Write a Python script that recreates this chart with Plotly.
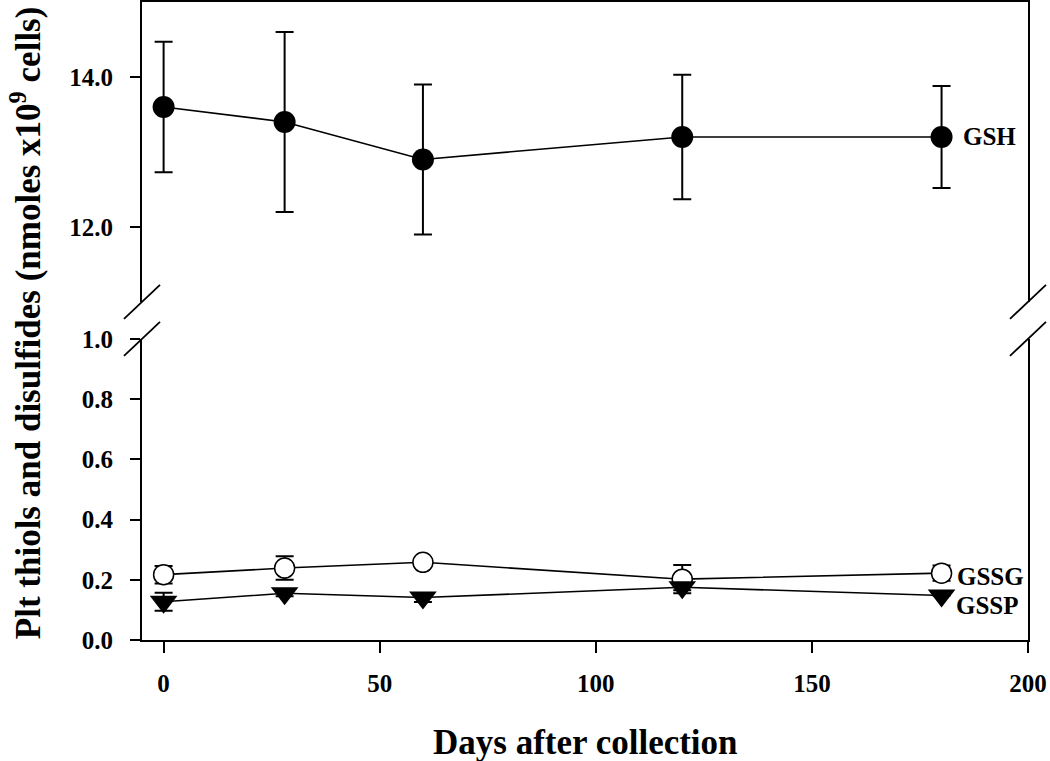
import plotly.graph_objects as go

days = [0, 28, 60, 120, 180]
gsh = [13.6, 13.4, 12.9, 13.2, 13.2]
gsh_err = [0.87, 1.2, 1.0, 0.83, 0.68]
gssg = [0.217, 0.239, 0.258, 0.202, 0.222]
gssg_err = [0.029, 0.039, 0.0, 0.047, 0.025]
gssp = [0.127, 0.155, 0.141, 0.175, 0.148]
gssp_err = [0.03, 0.01, 0.015, 0.01, 0.0]

x_ticks = [0, 50, 100, 150, 200]
low_ticks = [0.0, 0.2, 0.4, 0.6, 0.8, 1.0]
high_ticks = [12.0, 14.0]

FONT = "Liberation Serif, Times New Roman, serif"
BLACK = "black"

fig = go.Figure()

fig.add_trace(go.Scatter(
    x=days, y=gsh, mode="lines+markers", xaxis="x2", yaxis="y2",
    line=dict(color=BLACK, width=1.6),
    marker=dict(symbol="circle", size=22, color=BLACK),
    error_y=dict(type="data", array=gsh_err, color=BLACK, thickness=2, width=9),
    showlegend=False))

fig.add_trace(go.Scatter(
    x=days, y=gssg, mode="lines+markers",
    line=dict(color=BLACK, width=1.6),
    marker=dict(symbol="circle", size=20, color="white", line=dict(color=BLACK, width=1.5)),
    error_y=dict(type="data", array=gssg_err, color=BLACK, thickness=2, width=9),
    showlegend=False))

fig.add_trace(go.Scatter(
    x=days, y=gssp, mode="lines+markers",
    line=dict(color=BLACK, width=1.6),
    marker=dict(symbol="triangle-down", size=24, color=BLACK),
    error_y=dict(type="data", array=gssp_err, color=BLACK, thickness=2, width=9),
    showlegend=False))

tickfont = dict(family=FONT, size=25, color=BLACK, weight="bold")

fig.update_layout(
    width=1050, height=761,
    margin=dict(l=142, r=22, t=2, b=121, autoexpand=False),
    paper_bgcolor="white", plot_bgcolor="white",
    font=dict(family=FONT, color=BLACK),
    xaxis=dict(range=[-5, 200], tickvals=x_ticks, ticks="outside", ticklen=11, tickwidth=2,
               tickcolor=BLACK, showline=True, linecolor=BLACK, linewidth=2, showgrid=False,
               zeroline=False, tickfont=tickfont, anchor="y", ticklabelstandoff=9,
               automargin=False),
    xaxis2=dict(matches="x", anchor="y2", side="top", showline=True, linecolor=BLACK,
                linewidth=2, showticklabels=False, ticks="", showgrid=False, zeroline=False,
                automargin=False),
    yaxis=dict(domain=[0, 0.472], range=[0, 1.0], tickvals=low_ticks, tickformat=".1f",
               ticks="outside", ticklen=10, tickwidth=2, tickcolor=BLACK, showline=True,
               mirror=True, linecolor=BLACK, linewidth=2, showgrid=False, zeroline=False,
               tickfont=tickfont, anchor="x", ticklabelstandoff=12, automargin=False),
    yaxis2=dict(domain=[0.53, 1.0], range=[11, 15], tickvals=high_ticks, tickformat=".1f",
                ticks="outside", ticklen=10, tickwidth=2, tickcolor=BLACK, showline=True,
                mirror=True, linecolor=BLACK, linewidth=2, showgrid=False, zeroline=False,
                tickfont=tickfont, anchor="x2", ticklabelstandoff=12, automargin=False),
)

# axis break slashes
dx, dy = 0.0203, 0.0266
for xp in (0.0, 1.0):
    for yp in (0.53, 0.472):
        fig.add_shape(type="line", xref="paper", yref="paper",
                      x0=xp - dx, y0=yp - dy, x1=xp + dx, y1=yp + dy,
                      line=dict(color=BLACK, width=1.8))

lab = dict(family=FONT, size=25, color=BLACK)
fig.add_annotation(x=days[-1] + 4.5, y=gsh[-1], xref="x2", yref="y2", text="<b>GSH</b>",
                   showarrow=False, xanchor="left", yanchor="middle", font=lab)
fig.add_annotation(x=days[-1] + 3.2, y=0.212, xref="x", yref="y", text="<b>GSSG</b>",
                   showarrow=False, xanchor="left", yanchor="middle", font=lab)
fig.add_annotation(x=days[-1] + 2.8, y=0.116, xref="x", yref="y", text="<b>GSSP</b>",
                   showarrow=False, xanchor="left", yanchor="middle", font=lab)

fig.add_annotation(x=-0.131, y=0.498, xref="paper", yref="paper", textangle=-90,
                   text="<b>Plt thiols and disulfides (nmoles x10<sup>9</sup> cells)</b>",
                   showarrow=False, xanchor="center", yanchor="middle",
                   font=dict(family=FONT, size=35, color=BLACK))
fig.add_annotation(x=0.5, y=-0.16, xref="paper", yref="paper",
                   text="<b>Days after collection</b>", showarrow=False,
                   xanchor="center", yanchor="middle",
                   font=dict(family=FONT, size=35, color=BLACK))

fig.write_html("out.html", config={"displayModeBar": False},
               post_script="document.body.style.margin='0';")
